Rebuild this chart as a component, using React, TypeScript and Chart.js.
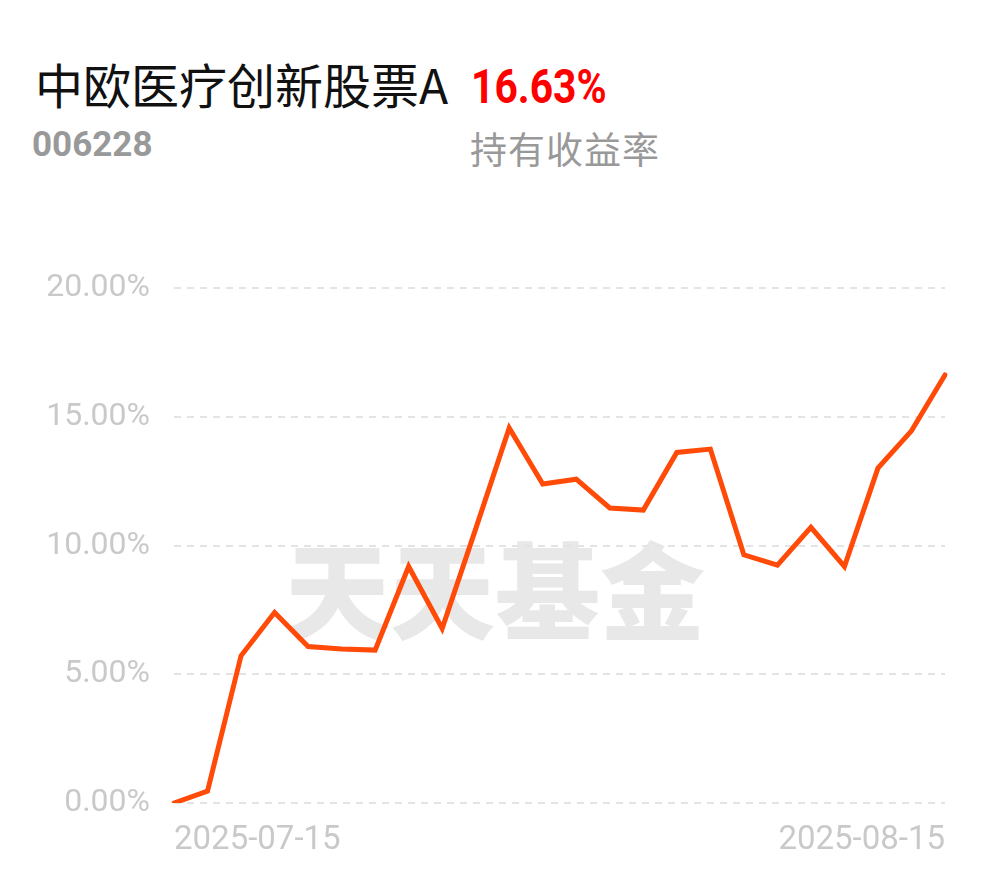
import { useEffect, useRef } from "react";
import { Chart, registerables } from "chart.js";

Chart.register(...registerables);

const fundName = "中欧医疗创新股票A";
const fundCode = "006228";
const holdingReturn = "16.63%";
const returnLabel = "持有收益率";
const watermark = "天天基金";

const dates = [
  "2025-07-15", "2025-07-16", "2025-07-17", "2025-07-18",
  "2025-07-21", "2025-07-22", "2025-07-23", "2025-07-24", "2025-07-25",
  "2025-07-28", "2025-07-29", "2025-07-30", "2025-07-31", "2025-08-01",
  "2025-08-04", "2025-08-05", "2025-08-06", "2025-08-07", "2025-08-08",
  "2025-08-11", "2025-08-12", "2025-08-13", "2025-08-14", "2025-08-15",
];

const returns = [
  0.0, 0.46, 5.72, 7.4, 6.08, 5.98, 5.94, 9.19, 6.78, 10.65, 14.57, 12.39,
  12.58, 11.46, 11.38, 13.62, 13.75, 9.64, 9.24, 10.71, 9.19, 13.01, 14.46, 16.63,
];

const yTicks = [0, 5, 10, 15, 20];

export default function App() {
  const canvasRef = useRef<HTMLCanvasElement | null>(null);

  useEffect(() => {
    if (!canvasRef.current) return;
    const chart = new Chart(canvasRef.current, {
      type: "line",
      data: {
        labels: dates,
        datasets: [
          {
            data: returns,
            borderColor: "#FF4A08",
            borderWidth: 5,
            pointRadius: 0,
            tension: 0,
            borderCapStyle: "round",
            borderJoinStyle: "miter",
            fill: false,
          },
        ],
      },
      options: {
        animation: false,
        responsive: false,
        maintainAspectRatio: false,
        layout: { padding: { top: 30, right: 45, left: 0, bottom: 0 } },
        plugins: { legend: { display: false }, tooltip: { enabled: false } },
        scales: {
          x: {
            offset: false,
            grid: { display: false, drawTicks: false },
            border: { display: false },
            ticks: {
              autoSkip: false,
              maxRotation: 0,
              minRotation: 0,
              align: "inner",
              padding: 18,
              color: "#c9c9c9",
              font: { family: "Roboto, sans-serif", size: 33 },
              callback: (_v: any, i: number) =>
                i === 0 || i === dates.length - 1 ? dates[i] : "",
            },
            afterFit: (scale: any) => {
              scale.height = 75;
            },
          },
          y: {
            min: yTicks[0],
            max: yTicks[yTicks.length - 1],
            afterBuildTicks: (scale: any) => {
              scale.ticks = yTicks.map((v) => ({ value: v }));
            },
            grid: { color: "#e4e4e4", lineWidth: 2, drawTicks: false },
            border: { display: false, dash: [7, 6] },
            ticks: {
              padding: 24,
              color: "#c9c9c9",
              font: { family: "Roboto, sans-serif", size: 32 },
              callback: (v: any) => Number(v).toFixed(2) + "%",
            },
            afterFit: (scale: any) => {
              scale.width = 174;
            },
          },
        },
      },
    });
    return () => chart.destroy();
  }, []);

  const abs = (o: any) => ({ position: "absolute" as const, lineHeight: 1, whiteSpace: "nowrap" as const, ...o });

  return (
    <div style={{ position: "absolute", left: 0, top: 0, width: 990, height: 878, background: "#fff", overflow: "hidden" }}>
      <div style={abs({ left: 35, top: 59, fontSize: 48, color: "#111", fontFamily: "'Noto Sans CJK SC', sans-serif" })}>
        {fundName}
      </div>
      <div
        style={abs({
          left: 471,
          top: 63,
          fontSize: 48,
          color: "#FF0000",
          fontWeight: 700,
          fontFamily: "Roboto, sans-serif",
          transform: "scaleX(0.85)",
          transformOrigin: "left top",
        })}
      >
        {holdingReturn}
      </div>
      <div style={abs({ left: 32, top: 127, fontSize: 35, color: "#999", fontWeight: 700, fontFamily: "Roboto, sans-serif" })}>
        {fundCode}
      </div>
      <div style={abs({ left: 470, top: 130, fontSize: 37, color: "#999", fontFamily: "'Noto Sans CJK SC', sans-serif", letterSpacing: 1 })}>
        {returnLabel}
      </div>
      <div style={abs({ left: 285, top: 533, fontSize: 105, color: "#e8e8e8", fontWeight: 900, fontFamily: "'Noto Sans CJK SC', sans-serif" })}>
        {watermark}
      </div>
      <canvas ref={canvasRef} width={990} height={633} style={{ position: "absolute", left: 0, top: 245, width: 990, height: 633 }} />
    </div>
  );
}
